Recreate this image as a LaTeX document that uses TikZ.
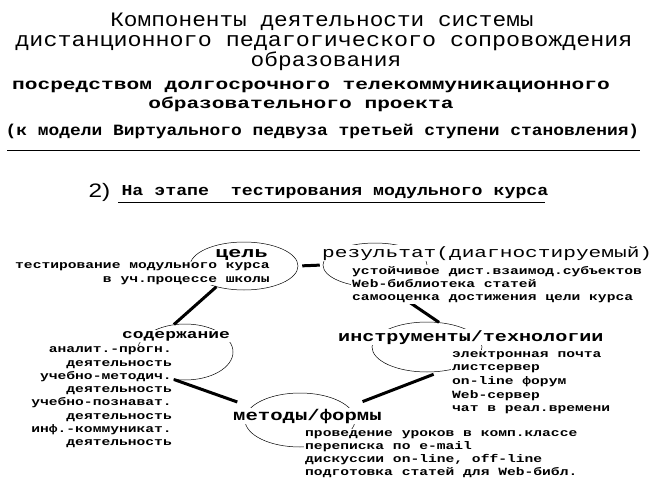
\documentclass[tikz,border=0pt]{standalone}
\usepackage{fontspec}
\setmainfont{Liberation Mono}
\newfontfamily\sansfam{Liberation Sans}
\newcommand\mfnt[3]{\fontsize{#1}{#2}\selectfont\addfontfeature{FakeStretch=#3}}
\usetikzlibrary{shapes.geometric}

\begin{document}
\begin{tikzpicture}[x=1pt, y=-1pt, ring/.style={draw, ellipse, line width=0.5pt, inner sep=0pt}, tag/.style={fill=white, inner sep=1pt}, items/.style={fill=white, inner sep=1pt, font=\bfseries\mfnt{11}{13.3}{1.33}}, link/.style={line width=3pt}]
\useasboundingbox (0,0) rectangle (662,490);
\node[anchor=base, inner sep=0pt, font=\mfnt{20.5}{21}{1.11}] (title1) at (322,26) {Компоненты деятельности системы};
\node[anchor=base, inner sep=0pt, font=\mfnt{20.5}{21}{1.14}] (title2) at (324,46) {дистанционного педагогического сопровождения};
\node[anchor=base, inner sep=0pt, font=\mfnt{20}{21}{1.14}] (title3) at (326,66.5) {образования};
\node[anchor=base, inner sep=0pt, font=\bfseries\mfnt{15.7}{17}{1.35}] (title4) at (311,89) {посредством долгосрочного телекоммуникационного};
\node[anchor=base, inner sep=0pt, font=\bfseries\mfnt{15.7}{17}{1.35}] (title5) at (301,108) {образовательного проекта};
\node[anchor=base, inner sep=0pt, font=\bfseries\mfnt{15.7}{17}{1.14}] (title6) at (322.5,135) {(к модели Виртуального педвуза третьей ступени становления)};
\draw[line width=1pt] (7,150) -- (640,150);
\node[anchor=base west, font=\sansfam\mfnt{19.5}{20}{1.25}] (num) at (85,197) {2)};
\node[anchor=base west, font=\bfseries\mfnt{15.2}{16}{1.2}] (head) at (118,195) {На этапе\ \ тестирования модульного курса};
\draw[line width=0.8pt] (118,202) -- (545,202);

\node[ring, minimum width=108pt, minimum height=48pt] (goal) at (244,266) {};
\node[ring, minimum width=104pt, minimum height=44pt] (result) at (375,265) {};
\node[ring, minimum width=96pt, minimum height=56pt] (content) at (185,352) {};
\node[ring, minimum width=110pt, minimum height=50pt] (tools) at (427,347) {};
\node[ring, minimum width=110pt, minimum height=54pt] (methods) at (300,420) {};
\draw[link, shorten <=4pt, shorten >=3pt] (goal.east) -- (result.west);
\draw[link] (goal.217) -- (content.112);
\draw[link, shorten <=25pt] (result.-62) -- (tools.64);
\draw[link, shorten >=15pt] (content.-112) -- (methods.165);
\draw[link, shorten <=8pt, shorten >=15pt] (tools.-60) -- (methods.15);

\node[tag, anchor=base, font=\bfseries\mfnt{15}{16}{1.45}] (goalname) at (241.5,257) {цель};
\node[tag, anchor=base west, font=\mfnt{15}{16}{1.41}] (resultname) at (321,257) {результат(диагностируемый)};
\node[tag, anchor=base west, font=\bfseries\mfnt{13}{14}{1.38}] (contentname) at (121,338) {содержание};
\node[tag, anchor=base west, font=\bfseries\mfnt{15}{16}{1.34}] (toolsname) at (337,341) {инструменты/технологии};
\node[tag, anchor=base west, font=\bfseries\mfnt{15.5}{16}{1.33}] (methodsname) at (232,420) {методы/формы};

\node[items, anchor=base east, align=right] (goalitems) at (271,282) {тестирование модульного курса\\в уч.процессе школы};
\node[items, anchor=base west, align=left] (resultitems) at (351,300.6) {устойчивое дист.взаимод.субъектов\\Web-библиотека статей\\самооценка достижения цели курса};
\node[items, anchor=base east, align=right] (contentitems) at (173,445.8) {аналит.-прогн.\\деятельность\\учебно-методич.\\деятельность\\учебно-познават.\\деятельность\\инф.-коммуникат.\\деятельность};
\node[items, anchor=base west, align=left, font=\bfseries\mfnt{11}{13.7}{1.33}] (toolitems) at (451,411.8) {электронная почта\\листсервер\\on-line форум\\Web-сервер\\чат в реал.времени};
\node[items, anchor=base west, align=left] (methoditems) at (304,475.9) {проведение уроков в комп.классе\\переписка по e-mail\\дискуссии on-line, off-line\\подготовка статей для Web-библ.};
\end{tikzpicture}
\end{document}
